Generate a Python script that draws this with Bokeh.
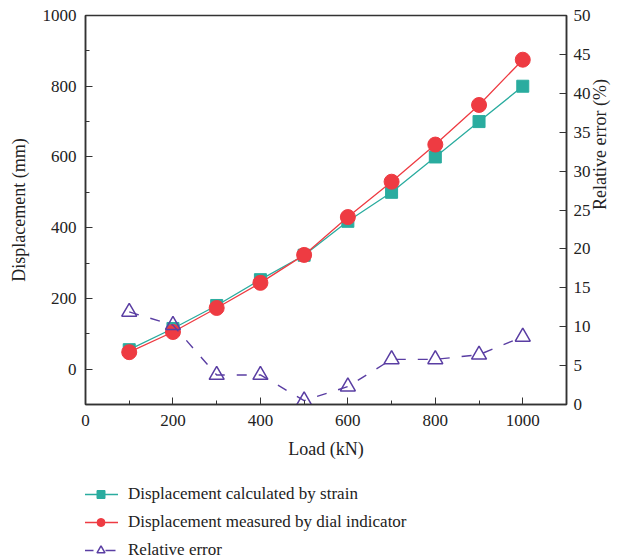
import math
from bokeh.plotting import figure
from bokeh.layouts import column
from bokeh.models import (Range1d, LinearAxis, SingleIntervalTicker, Legend,
                          LegendItem, ColumnDataSource)
from bokeh.embed import file_html
from bokeh.resources import INLINE

# Load steps (kN)
load = [100, 200, 300, 400, 500, 600, 700, 800, 900, 1000]
# Displacement from strain gauges (mm)
disp_strain = [55, 115, 180, 253, 322, 418, 500, 600, 700, 800]
# Displacement read on the dial indicator (mm)
disp_dial = [48, 105, 173, 244, 323, 430, 530, 635, 747, 875]
# Relative error between the two (%)
rel_error = [11.9, 10.2, 3.8, 3.8, 0.5, 2.3, 5.8, 5.8, 6.4, 8.7]

TEAL = "#2aac9f"
RED = "#ee3b42"
PURPLE = "#5a3ea3"
FONT = "Liberation Serif"
AXIS_COLOR = "#333333"
TEXT_COLOR = "#222222"

src = ColumnDataSource(dict(load=load, strain=disp_strain, dial=disp_dial, err=rel_error))

p = figure(width=625, height=462, output_backend="svg", toolbar_location=None,
           x_range=Range1d(0, 1100), y_range=Range1d(-100, 1000),
           min_border_left=85, min_border_right=59, min_border_top=15,
           min_border_bottom=58)
p.extra_y_ranges = {"err": Range1d(0, 50)}

p.xgrid.visible = False
p.ygrid.visible = False
p.outline_line_color = AXIS_COLOR
p.outline_line_width = 1.5
p.background_fill_color = "white"
p.border_fill_color = "white"

def style_axis(ax):
    ax.axis_line_color = AXIS_COLOR
    ax.axis_line_width = 1.5
    ax.major_tick_line_color = AXIS_COLOR
    ax.minor_tick_line_color = AXIS_COLOR
    ax.major_tick_in = 7
    ax.major_tick_out = 0
    ax.minor_tick_in = 4
    ax.minor_tick_out = 0
    ax.major_label_text_font = FONT
    ax.major_label_text_font_size = "17px"
    ax.major_label_text_color = TEXT_COLOR
    ax.axis_label_text_font = FONT
    ax.axis_label_text_font_size = "18px"
    ax.axis_label_text_font_style = "normal"
    ax.axis_label_text_color = TEXT_COLOR

xax = p.xaxis[0]
xax.ticker = SingleIntervalTicker(interval=200, num_minor_ticks=2)
xax.axis_label = "Load (kN)"
style_axis(xax)
xax.major_label_standoff = 10
xax.axis_label_standoff = 10

yax = p.yaxis[0]
yax.ticker = SingleIntervalTicker(interval=200, num_minor_ticks=2)
yax.axis_label = "Displacement (mm)"
style_axis(yax)
yax.major_label_standoff = 9
yax.axis_label_standoff = 11

rax = LinearAxis(y_range_name="err", axis_label="Relative error (%)",
                 ticker=SingleIntervalTicker(interval=5, num_minor_ticks=0))
style_axis(rax)
rax.minor_tick_line_color = None
rax.major_label_standoff = 7
rax.axis_label_standoff = 6
rax.axis_label_orientation = math.pi / 2
p.add_layout(rax, "right")

def draw_series(fig, visible=True):
    # Strain-based displacement
    l1 = fig.line("load", "strain", source=src, line_color=TEAL, line_width=1.3,
                  visible=visible)
    m1 = fig.scatter("load", "strain", source=src, marker="square", size=12,
                     fill_color=TEAL, line_color=TEAL, visible=visible)
    # Dial indicator displacement
    l2 = fig.line("load", "dial", source=src, line_color=RED, line_width=1.3,
                  visible=visible)
    m2 = fig.scatter("load", "dial", source=src, marker="circle", size=15,
                     fill_color=RED, line_color=RED, visible=visible)
    # Relative error on the secondary axis
    kw = dict(y_range_name="err") if visible else {}
    l3 = fig.line("load", "err", source=src, line_color=PURPLE, line_width=1.4,
                  line_dash="10 12", visible=visible, **kw)
    m3 = fig.scatter("load", "err", source=src, marker="triangle", size=15,
                     fill_color="white", fill_alpha=0, line_color=PURPLE,
                     line_width=1.5, visible=visible, **kw)
    return (l1, m1), (l2, m2), (l3, m3)

draw_series(p)

# Legend strip underneath the plot
leg_fig = figure(width=625, height=98, output_backend="svg", toolbar_location=None,
                 x_axis_type=None, y_axis_type=None,
                 x_range=Range1d(0, 1), y_range=Range1d(0, 1),
                 min_border=0, outline_line_color=None)
leg_fig.xgrid.visible = False
leg_fig.ygrid.visible = False
s1, s2, s3 = draw_series(leg_fig, visible=False)

legend = Legend(items=[
    LegendItem(label="Displacement calculated by strain", renderers=list(s1)),
    LegendItem(label="Displacement measured by dial indicator", renderers=list(s2)),
    LegendItem(label="Relative error", renderers=list(s3)),
], location=(-2, 0), click_policy="none")
legend.border_line_color = None
legend.background_fill_alpha = 0
legend.label_text_font = FONT
legend.label_text_font_size = "17px"
legend.label_text_color = TEXT_COLOR
legend.glyph_width = 35
legend.glyph_height = 20
legend.label_height = 20
legend.label_standoff = 10
legend.spacing = 8
legend.padding = 0
legend.margin = 0
leg_fig.add_layout(legend, "center")

open("out.html", "w").write(file_html(column(p, leg_fig, spacing=0), INLINE))
